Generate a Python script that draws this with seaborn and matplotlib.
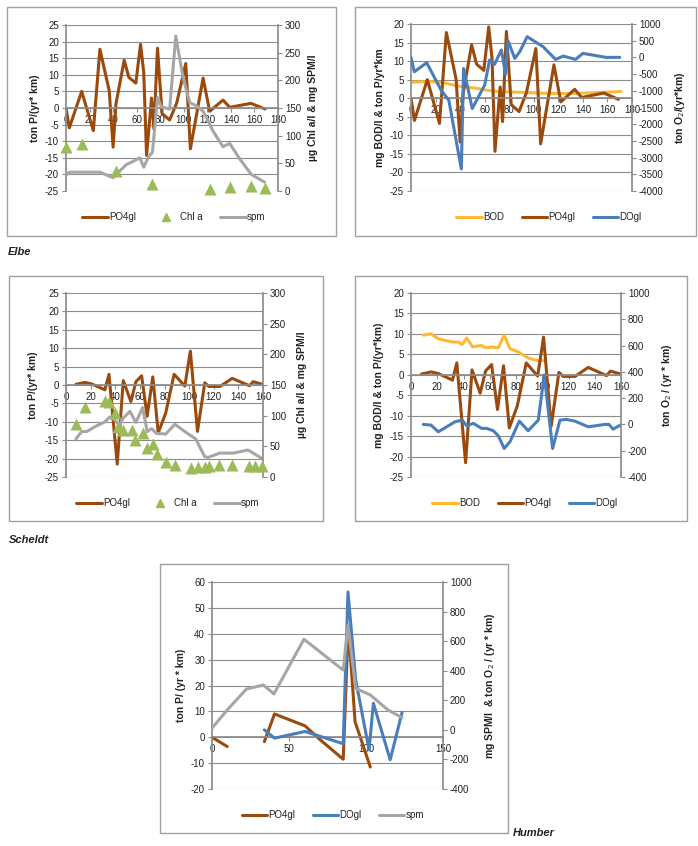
import numpy as np
import pandas as pd
import matplotlib
matplotlib.use("Agg")
import matplotlib.pyplot as plt
from matplotlib.lines import Line2D
from matplotlib.patches import Rectangle
import seaborn as sns

# ---------------- DATA ----------------
# Elbe
elbe_po4_km = [0, 2.8, 13.3, 23.2, 28.8, 36.7, 40, 42.4, 49.4, 53.4, 59.3, 63.3, 66, 68.4,
               72.6, 74.6, 77.7, 81.6, 88, 94, 101.7, 105.6, 116.4, 122, 133.3, 139, 157, 169]
elbe_po4 = [0, -6, 5, -6.8, 17.7, 5.2, -11.8, 1.2, 14.4, 9.2, 7.5, 19.2, 10.7, -14.3,
            3, -6.3, 18, -1.7, -3.6, 1.5, 13.4, -12.3, 9, -1, 2.4, 0.2, 1.4, -0.3]
elbe_chl_km = [0, 13.3, 42.4, 73.4, 122.6, 139.5, 156.8, 168.6]
elbe_chl = [80, 85, 36, 13, 4, 8, 9, 6]
elbe_spm_km = [0, 2.8, 28.8, 40, 47, 51.4, 55.6, 62.7, 66, 69.8, 73.4, 77.7, 81, 88, 93.2,
               99.4, 105, 110.7, 116.4, 120.6, 124.6, 133.3, 139, 147.5, 157.3, 168.6]
elbe_spm = [28, 34, 34, 24, 39, 48, 52, 60, 43, 61, 70, 169, 152, 148, 280,
            205, 160, 154, 144, 127, 109, 80, 86, 58, 30, 16]
elbe_bod_km = [0, 15, 26, 34, 42, 53, 61, 69.5, 88.6, 107.6, 124, 135, 151, 171]
elbe_bod = [4.3, 4.5, 4.2, 3.6, 3.1, 2.7, 2.2, 1.8, 1.6, 1.35, 1.25, 1.35, 1.5, 1.8]
elbe_do_km = [0, 2.7, 12.8, 24.5, 30.8, 41, 42.8, 49.9, 60, 64, 68, 73.6, 77, 79, 84.5,
              88.6, 94.6, 107.6, 117.7, 124, 134, 140, 159, 170]
elbe_do = [0, -430, -160, -980, -1280, -3340, -330, -1530, -830, -80, -210, 220, -500, 500,
           -30, 170, 620, 320, -60, 40, -60, 120, 0, 0]

# Scheldt
sch_po4_km = [8.1, 15.4, 20.8, 31.6, 34.9, 41.6, 46.5, 52.7, 56.8, 61.4, 65.9, 70.5, 74.9,
              81, 87.8, 96.5, 101, 106.8, 112.7, 116, 125, 135, 149, 152, 159.5]
sch_po4 = [0.2, 0.7, 0.3, -1.3, 2.9, -21.5, 1.2, -4.5, 0.9, 2.5, -8.5, 2.2, -13,
           -7.6, 2.9, -0.3, 9.2, -12.6, 0.6, -0.4, -0.4, 1.8, -0.2, 0.9, 0.2]
sch_chl_km = [8.1, 15.4, 31.6, 35.1, 39.7, 41.9, 46.5, 53.2, 56, 62.2, 66, 70.8, 74.3, 81,
              88.4, 101.4, 107.3, 112.7, 116.2, 124.3, 135, 148.6, 153.2, 159.5]
sch_chl = [86, 114, 124, 123, 104, 82, 77, 77, 60, 71, 48, 53, 37, 25,
           19, 15, 16, 17, 18, 19, 19, 18, 18, 18]
sch_spm_km = [8.1, 12.7, 16.8, 23.5, 31.6, 35.7, 39.7, 43.2, 46.5, 51.9, 56.8, 62.2, 66,
              69.5, 73.5, 81, 88.4, 96.5, 105.4, 112.7, 115.4, 124.9, 136, 147.8, 151.9, 158.6]
sch_spm = [62, 74, 74, 82, 90, 98, 93, 85, 96, 107, 89, 113, 74,
           79, 71, 70, 86, 74, 62, 33, 32, 39, 39, 44, 39, 31]
sch_bod_km = [9.4, 15.2, 20.8, 25.9, 32.2, 36, 39, 42.4, 47, 53.3, 57.1, 61.4, 66.5, 71,
              75.4, 81.7, 89.3, 95.7, 101.5]
sch_bod = [9.7, 10, 8.8, 8.4, 8, 8, 7.4, 9, 6.8, 7.2, 6.6, 6.8, 6.6, 9.7,
           6.4, 5.6, 4.1, 3.5, 3.5]
sch_do_km = [9.4, 15.2, 20.8, 27.2, 33.5, 39, 42.4, 47.5, 53.8, 57.6, 62.7, 66.5, 71, 75.4,
             82.5, 89.3, 97, 101.5, 107.9, 113.5, 118.5, 124.9, 135, 147.7, 150.8, 154, 160.4]
sch_do = [0, -5, -56, -18, 20, 33, -10, 8, -30, -30, -48, -86, -183, -132,
          25, -48, 33, 377, -183, 33, 38, 25, -18, 0, 0, -36, 0]

# Humber
hum_po4_km = [0, 9.9, 34, 40.6, 60.4, 70.3, 85.2, 88.5, 92.9, 102.8]
hum_po4 = [0, -3.6, -1.7, 9, 4.4, -1, -8.5, 43.3, 6, -11.5]
hum_po4_seg = [1, 1, 2, 2, 2, 2, 2, 2, 2, 2]
hum_do_km = [34, 40.6, 60.4, 85.2, 88.3, 93.3, 102, 104.8, 115.7, 123.4]
hum_do = [0, -56, -11, -94, 933, 337, -135, 180, -202, 117]
hum_spm_km = [0, 9.9, 22.4, 33.4, 40.2, 59.7, 85.2, 88.3, 93.3, 102.8, 114.2, 123.4]
hum_spm = [11, 135, 276, 303, 243, 613, 404, 708, 281, 236, 135, 83]

# ---------------- STYLE ----------------
sns.set_theme(style="white")
plt.rcParams['font.family'] = ['Liberation Sans', 'DejaVu Sans']
plt.rcParams['axes.unicode_minus'] = False

W, H = 698, 846
fig = plt.figure(figsize=(W / 100, H / 100), dpi=100)

C_PO4 = '#9a4a0c'
C_CHL = '#9bbb59'
C_SPM = '#a6a6a6'
C_BOD = '#fdb933'
C_DO = '#4a7ebb'
GRID = '#8c8c8c'
TXT = '#222222'
LW = 2.2


def rect(l, t, r, b):
    return [l / W, 1 - b / H, (r - l) / W, (b - t) / H]


def frame(l, t, r, b):
    fig.add_artist(Rectangle((l / W, 1 - b / H), (r - l) / W, (b - t) / H,
                             transform=fig.transFigure, fill=False,
                             edgecolor='#a0a0a0', lw=1.0))


def line(ax, x, y, color, units=None):
    d = pd.DataFrame({'x': x, 'y': y})
    if units is not None:
        d['u'] = units
        sns.lineplot(data=d, x='x', y='y', units='u', estimator=None, sort=False,
                     ax=ax, color=color, lw=LW, legend=False)
    else:
        sns.lineplot(data=d, x='x', y='y', estimator=None, sort=False,
                     ax=ax, color=color, lw=LW, legend=False)


def tri(ax, x, y):
    d = pd.DataFrame({'x': x, 'y': y})
    sns.scatterplot(data=d, x='x', y='y', ax=ax, marker='^', s=75, color=C_CHL,
                    edgecolor=C_CHL, linewidth=0, legend=False, zorder=5,
                    clip_on=False)


def setup(ax, ax2, xlim, xticks, ylim, yticks, y2lim, y2ticks, ylab, y2lab, lx, rx):
    ax.set_xlim(xlim)
    ax.set_xticks(xticks)
    ax.set_ylim(ylim)
    ax.set_yticks(yticks)
    ax2.set_ylim(y2lim)
    ax2.set_yticks(y2ticks)
    for a in (ax, ax2):
        for s in a.spines.values():
            s.set_visible(False)
    ax.spines['left'].set_visible(True)
    ax.spines['left'].set_color(GRID)
    ax2.spines['right'].set_visible(True)
    ax2.spines['right'].set_color(GRID)
    ax.spines['bottom'].set_visible(True)
    ax.spines['bottom'].set_color(GRID)
    ax.spines['bottom'].set_position(('data', 0))
    ax.grid(axis='y', color=GRID, lw=0.8)
    ax.grid(axis='x', visible=False)
    ax.set_axisbelow(True)
    ax.tick_params(axis='both', length=3, width=0.8, color=GRID, labelsize=7,
                   labelcolor=TXT, pad=2, left=True, bottom=True)
    ax2.tick_params(axis='y', length=3, width=0.8, color=GRID, labelsize=7,
                    labelcolor=TXT, pad=2, right=True)
    ax.set_xlabel('')
    ax2.set_xlabel('')
    ax.set_ylabel(ylab, fontsize=7.5, fontweight='bold', color=TXT, va='center')
    ax2.set_ylabel(y2lab, fontsize=7.5, fontweight='bold', color=TXT, va='center')
    ax.yaxis.set_label_coords(lx, 0.5)
    ax2.yaxis.set_label_coords(rx, 0.5)


def legend(handles, labels, cx, cy):
    fig.legend(handles, labels, loc='center', bbox_to_anchor=(cx / W, 1 - cy / H),
               ncol=3, frameon=False, fontsize=7, handlelength=2.6,
               handletextpad=0.15, columnspacing=1.8, labelcolor=TXT)


def lh(c):
    return Line2D([], [], color=c, lw=LW)


tri_h = Line2D([], [], color=C_CHL, marker='^', ls='none', markersize=6)

# ---------------- FRAMES ----------------
frame(7, 7, 336, 236)
frame(355, 7, 696, 236)
frame(9, 276, 323, 521)
frame(355, 276, 687, 521)
frame(160, 564, 508, 833)

# ---------------- ELBE LEFT ----------------
ax = fig.add_axes(rect(66, 25, 278, 191))
ax2 = ax.twinx()
line(ax, elbe_po4_km, elbe_po4, C_PO4)
line(ax2, elbe_spm_km, elbe_spm, C_SPM)
tri(ax2, elbe_chl_km, elbe_chl)
setup(ax, ax2, (0, 180), range(0, 181, 20), (-25, 25), range(-25, 26, 5),
      (0, 300), range(0, 301, 50), 'ton P/(yr* km)', 'µg Chl a/l & mg SPM/l',
      -0.146, 1.165)
legend([lh(C_PO4), tri_h, lh(C_SPM)], ['PO4gl', 'Chl a', 'spm'], 174, 217)

# ---------------- ELBE RIGHT ----------------
ax = fig.add_axes(rect(411, 24, 632, 191))
ax2 = ax.twinx()
line(ax, elbe_bod_km, elbe_bod, C_BOD)
line(ax, elbe_po4_km, elbe_po4, C_PO4)
line(ax2, elbe_do_km, elbe_do, C_DO)
setup(ax, ax2, (0, 180), range(0, 181, 20), (-25, 20), range(-25, 21, 5),
      (-4000, 1000), range(-4000, 1001, 500), 'mg BOD/l & ton P/yr*km',
      'ton O$_2$/(yr*km)', -0.140, 1.217)
legend([lh(C_BOD), lh(C_PO4), lh(C_DO)], ['BOD', 'PO4gl', 'DOgl'], 549, 217)

fig.text(8 / W, 1 - 252 / H, 'Elbe', fontsize=8, fontweight='bold', style='italic',
         va='center', color=TXT)

# ---------------- SCHELDT LEFT ----------------
ax = fig.add_axes(rect(66, 293, 263, 477))
ax2 = ax.twinx()
line(ax, sch_po4_km, sch_po4, C_PO4)
line(ax2, sch_spm_km, sch_spm, C_SPM)
tri(ax2, sch_chl_km, sch_chl)
setup(ax, ax2, (0, 160), range(0, 161, 20), (-25, 25), range(-25, 26, 5),
      (0, 300), range(0, 301, 50), 'ton P/(yr* km)', 'µg Chl a/l & mg SPM/l',
      -0.168, 1.198)
legend([lh(C_PO4), tri_h, lh(C_SPM)], ['PO4gl', 'Chl a', 'spm'], 168, 503)

# ---------------- SCHELDT RIGHT ----------------
ax = fig.add_axes(rect(411, 293, 621, 477))
ax2 = ax.twinx()
line(ax, sch_bod_km, sch_bod, C_BOD)
line(ax, sch_po4_km, sch_po4, C_PO4)
line(ax2, sch_do_km, sch_do, C_DO)
setup(ax, ax2, (0, 160), range(0, 161, 20), (-25, 20), range(-25, 21, 5),
      (-400, 1000), range(-400, 1001, 200), 'mg BOD/l & ton P/(yr*km)',
      'ton O$_2$ / (yr * km)', -0.152, 1.219)
legend([lh(C_BOD), lh(C_PO4), lh(C_DO)], ['BOD', 'PO4gl', 'DOgl'], 525, 503)

fig.text(9 / W, 1 - 540 / H, 'Scheldt', fontsize=8, fontweight='bold', style='italic',
         va='center', color=TXT)

# ---------------- HUMBER ----------------
ax = fig.add_axes(rect(212, 582, 443, 789))
ax2 = ax.twinx()
line(ax, hum_po4_km, hum_po4, C_PO4, units=hum_po4_seg)
line(ax2, hum_do_km, hum_do, C_DO)
line(ax2, hum_spm_km, hum_spm, C_SPM)
setup(ax, ax2, (0, 150), range(0, 151, 50), (-20, 60), range(-20, 61, 10),
      (-400, 1000), range(-400, 1001, 200), 'ton P/ (yr * km)',
      'mg SPM/l  & ton O$_2$ / (yr * km)', -0.134, 1.203)
legend([lh(C_PO4), lh(C_DO), lh(C_SPM)], ['PO4gl', 'DOgl', 'spm'], 333, 815)

fig.text(513 / W, 1 - 833 / H, 'Humber', fontsize=8, fontweight='bold', style='italic',
         va='center', color=TXT)

fig.savefig('out.png', dpi=100)
